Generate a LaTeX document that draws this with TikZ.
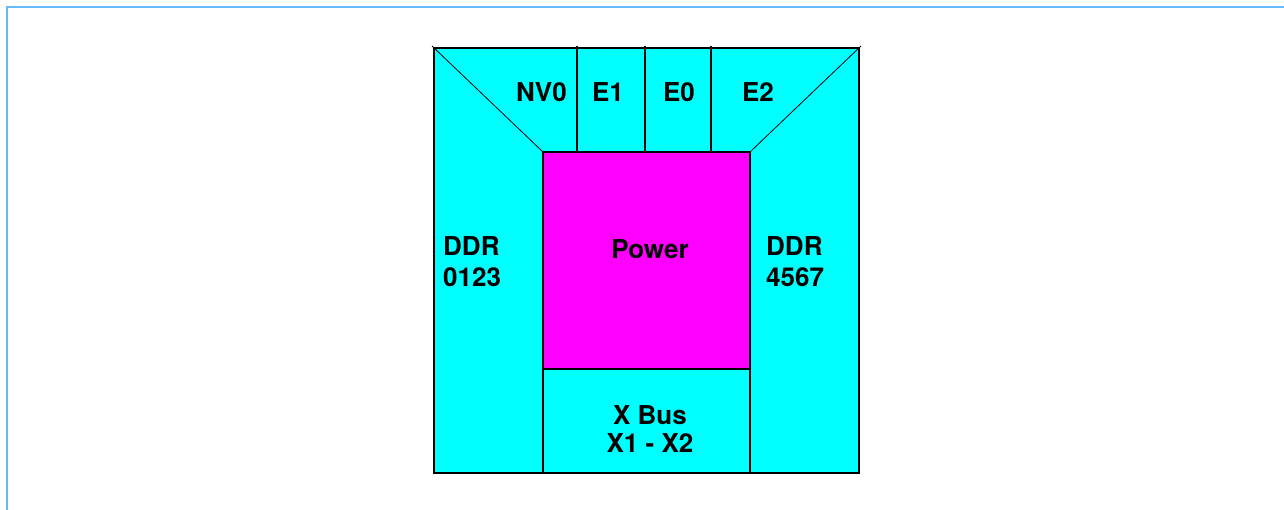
\documentclass[tikz,border=0pt]{standalone}
\usepackage{fontspec}
\setmainfont{TeX Gyre Heros}
\usetikzlibrary{positioning}

\definecolor{frameblue}{RGB}{102,187,255}
\definecolor{chipcyan}{RGB}{0,255,255}
\definecolor{chipmag}{RGB}{255,0,255}

\tikzset{
  lbl/.style={font=\bfseries\fontsize{26}{31}\selectfont, inner sep=0pt},
  wall/.style={black, line width=2pt},
}

\begin{document}
\begin{tikzpicture}[x=1pt,y=-1pt]
    \useasboundingbox (0,0) rectangle (1284,510);
    % Draw page frame
    \draw[frameblue, line width=2pt] (7,520) -- (7,7.5) -- (1295,7.5);

    % Fill chip areas
    \fill[chipcyan] (434,48) rectangle (859,473);
    \fill[chipmag] (543,152) rectangle (750,369);

    % Draw outlines and dividers
    \draw[wall] (434,48) rectangle (859,473);
    \draw[wall] (543,152) rectangle (750,369);
    \draw[wall] (543,369) rectangle (750,473);
    \draw[wall] (577,46) -- (577,152);
    \draw[wall] (645,46) -- (645,152);
    \draw[wall] (711,46) -- (711,152);
    \draw[thick] (432,46) -- (543,152);
    \draw[thick] (861,46) -- (750,152);

    % Labels
    \node[lbl] (nv) at (541.5,92.5) {NV0};
    \node[lbl] (ea) at (608,92.5) {E1};
    \node[lbl] (eb) at (679,92.5) {E0};
    \node[lbl] (ec) at (758,92.5) {E2};
    \node[lbl, anchor=west, align=left] (ddrl) at (443,261.5) {DDR\\0123};
    \node[lbl, anchor=west, align=left] (ddrr) at (766,261.5) {DDR\\4567};
    \node[lbl] (pwr) at (650,249) {Power};
    \node[lbl, align=center, font=\bfseries\fontsize{26}{28}\selectfont] (xbus) at (650,429.5) {X Bus\\X1 - X2};

\end{tikzpicture}
\end{document}
